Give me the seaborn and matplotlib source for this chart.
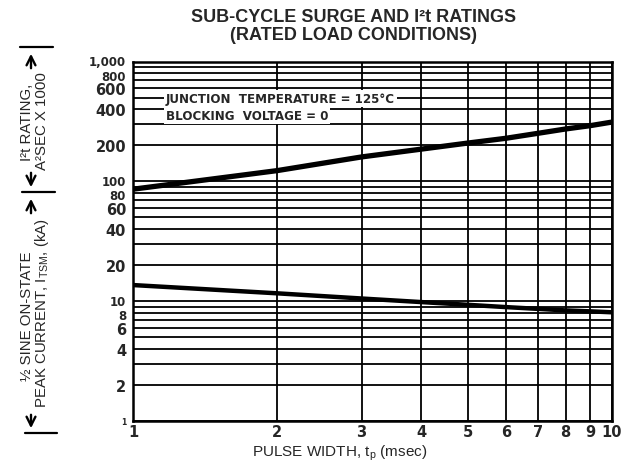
import matplotlib
matplotlib.use('Agg')
import matplotlib.pyplot as plt
import matplotlib.ticker as mticker
import matplotlib.transforms as mtrans
from matplotlib.lines import Line2D
import seaborn as sns

# values
pulse_ms = [1, 2, 3, 4, 5, 6, 7, 8, 9, 10]
i2t_rating = [86, 123, 160, 186, 209, 229, 252, 274, 292, 313]          # A^2 s x 1000
peak_current = [13.6, 11.6, 10.5, 9.8, 9.3, 8.9, 8.6, 8.35, 8.2, 8.05]   # kA

y_grid = [m * 10 ** e for e in range(3) for m in range(1, 10)] + [1000]
y_labelled = {1: '1', 2: '2', 4: '4', 6: '6', 8: '8', 10: '10', 20: '20', 40: '40',
              60: '60', 80: '80', 100: '100', 200: '200', 400: '400', 600: '600',
              800: '800', 1000: '1,000'}
x_ticks = pulse_ms

sns.set_style('white')
plt.rcParams['font.family'] = ['Liberation Sans', 'DejaVu Sans']

W, H = 621, 464
fig = plt.figure(figsize=(6.21, 4.64), dpi=100)


def fx(x):
    return x / W


def fy(y):
    return 1 - y / H


ax = fig.add_axes([fx(133), fy(421.7), fx(612) - fx(133), fy(62.7) - fy(421.7)])

sns.lineplot(x=pulse_ms, y=i2t_rating, ax=ax, color='black', lw=3.8,
             solid_capstyle='butt', zorder=4)
sns.lineplot(x=pulse_ms, y=peak_current, ax=ax, color='black', lw=3.2,
             solid_capstyle='butt', zorder=4)

ax.set_xscale('log')
ax.set_yscale('log')
ax.set_xlim(1, 10)
ax.set_ylim(1, 1000)

ax.xaxis.set_major_locator(mticker.FixedLocator(x_ticks))
ax.xaxis.set_major_formatter(mticker.FixedFormatter([str(v) for v in x_ticks]))
ax.xaxis.set_minor_locator(mticker.NullLocator())
ax.yaxis.set_major_locator(mticker.FixedLocator(y_grid))
ax.yaxis.set_major_formatter(mticker.FixedFormatter([y_labelled.get(v, '') for v in y_grid]))
ax.yaxis.set_minor_locator(mticker.NullLocator())

ax.grid(True, which='major', color='black', lw=1.3)
ax.tick_params(axis='both', length=0, labelsize=10.5)
ax.tick_params(axis='x', pad=2.5)
ax.tick_params(axis='y', pad=5)
for lab in ax.get_xticklabels() + ax.get_yticklabels():
    lab.set_fontfamily('DejaVu Sans')
    lab.set_fontweight('bold')

# crowded labels (1,000/800, 100/80, 10/8): a bit smaller and nudged apart
crowd_shift = {1000: 1.5, 800: -1.5, 100: 1.5, 80: -1.5, 10: 1.5, 8: -1.5}
for val, lab in zip(y_grid, ax.get_yticklabels()):
    if val == 1:
        lab.set_fontsize(5.5)
    elif val in crowd_shift:
        lab.set_fontsize(8.5)
        off = mtrans.ScaledTranslation(0, crowd_shift[val] / 100, fig.dpi_scale_trans)
        lab.set_transform(lab.get_transform() + off)
ax.set_xlabel('')
ax.set_ylabel('')
for sp in ax.spines.values():
    sp.set_color('black')
    sp.set_linewidth(1.8)

# notes inside the plot
note_kw = dict(fontsize=8.6, fontweight='bold', family='DejaVu Sans', ha='left', va='center')
fig.text(fx(166), fy(99.5), 'JUNCTION  TEMPERATURE = 125°C',
         bbox=dict(fc='white', ec='none', pad=1.2), **note_kw)
fig.text(fx(166), fy(116.5), 'BLOCKING  VOLTAGE = 0',
         bbox=dict(fc='white', ec='none', pad=1.2), **note_kw)

# title
fig.text(fx(353.5), fy(17.5), 'SUB-CYCLE SURGE AND I²t RATINGS',
         ha='center', va='center', fontsize=13, fontweight='bold')
fig.text(fx(353.5), fy(35), '(RATED LOAD CONDITIONS)',
         ha='center', va='center', fontsize=13, fontweight='bold')

# x label
fig.text(fx(340), fy(453), r'PULSE WIDTH, t$_\mathregular{p}$ (msec)',
         ha='center', va='center', fontsize=11)

# two-part y label
lab_kw = dict(rotation=90, ha='center', va='center', fontsize=10.8)
fig.text(fx(27), fy(316), '½ SINE ON-STATE', **lab_kw)
fig.text(fx(42), fy(313), r'PEAK CURRENT, I$_\mathregular{TSM}$, (kA)', **lab_kw)
fig.text(fx(27), fy(122), 'I²t RATING,', **lab_kw)
fig.text(fx(42), fy(121), 'A²SEC X 1000', **lab_kw)

arrow_kw = dict(arrowstyle='->', lw=1.7, color='black', mutation_scale=16)
for y0, y1 in [(72, 52), (171, 191), (217, 197), (413, 432)]:
    ax.annotate('', xy=(fx(31), fy(y1)), xytext=(fx(31), fy(y0)),
                xycoords='figure fraction', textcoords='figure fraction',
                arrowprops=arrow_kw, annotation_clip=False)
for xa, xb, yb in [(20, 53, 48), (22, 55, 193), (25, 57, 434)]:
    fig.add_artist(Line2D([fx(xa), fx(xb)], [fy(yb), fy(yb)], color='black', lw=1.6))

fig.savefig('out.png', dpi=100)
